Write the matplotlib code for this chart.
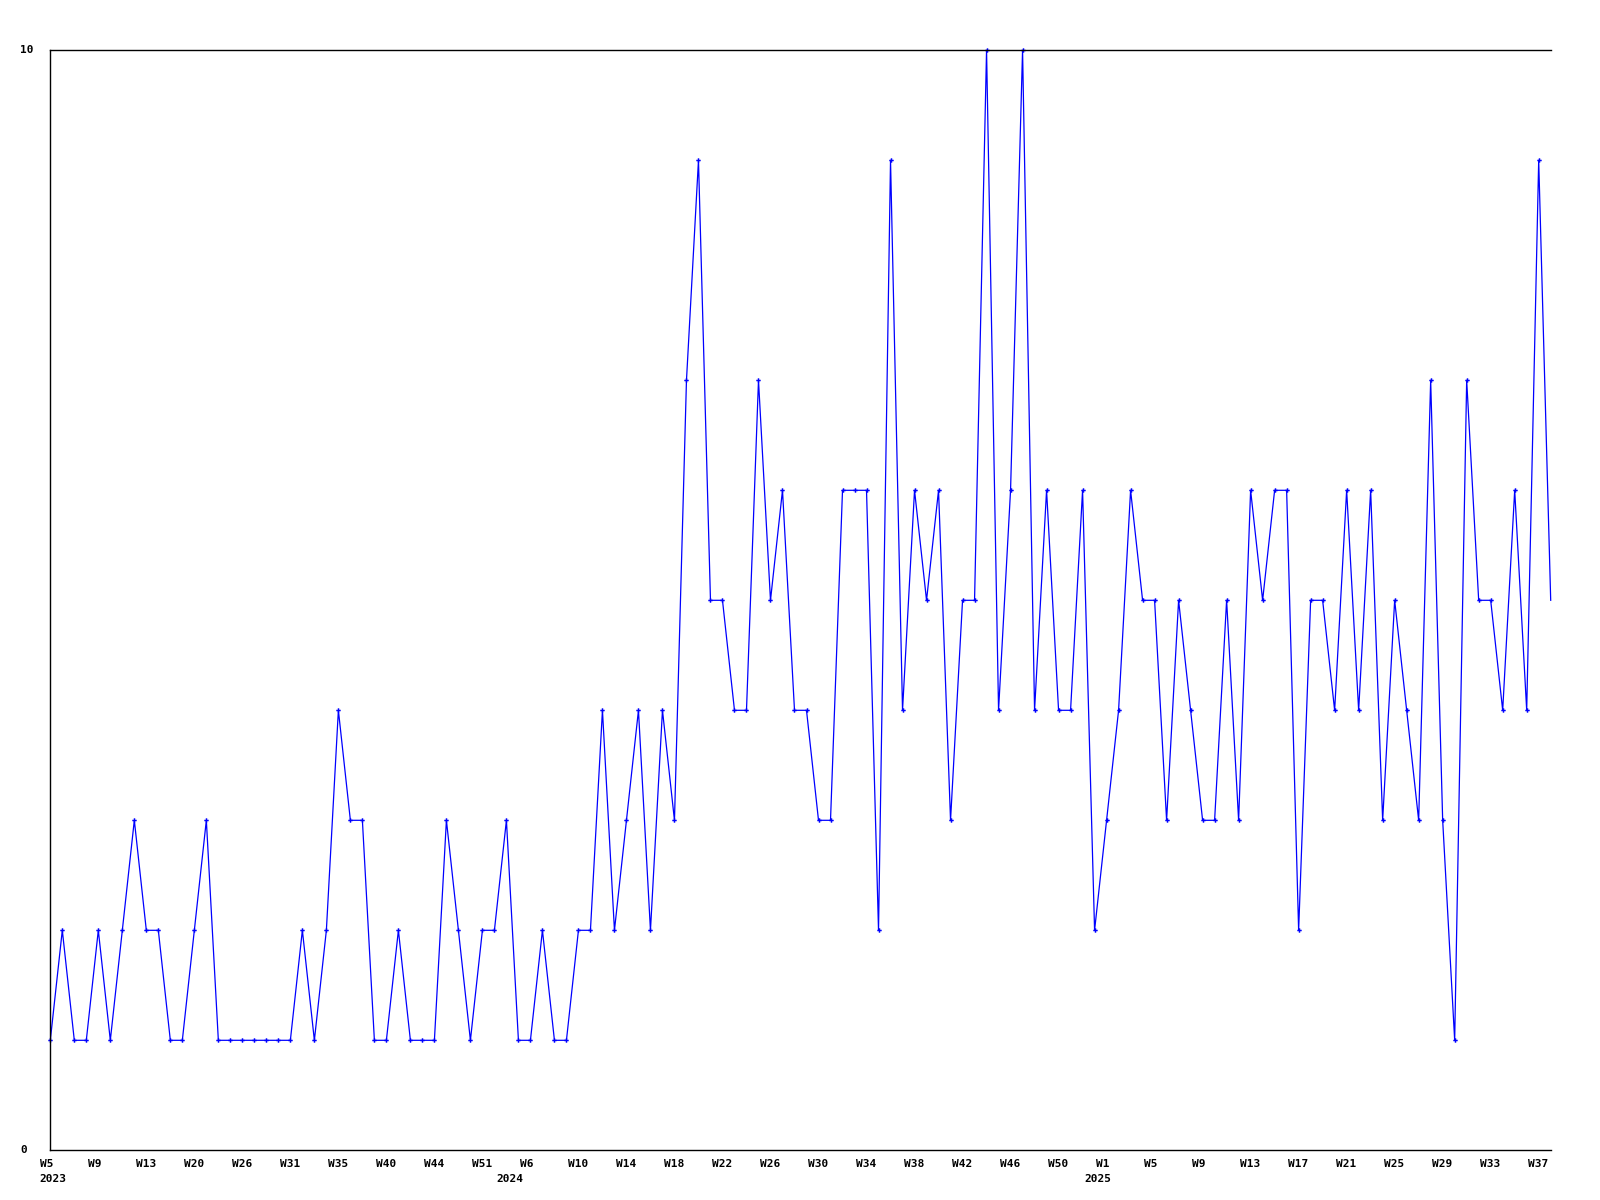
# -*-coding:utf8-*-

import matplotlib
matplotlib.use('Agg')
import matplotlib.pyplot as plt
import numpy as np

# weekly counts, one value per week that has data
g_values = [1, 2, 1, 1, 2, 1, 2, 3, 2, 2, 1, 1, 2, 3, 1, 1, 1, 1, 1, 1,
            1, 2, 1, 2, 4, 3, 3, 1, 1, 2,
            1, 1, 1, 3, 2, 1, 2, 2, 3, 1, 1, 2, 1, 1, 2, 2, 4, 2, 3, 4,
            2, 4, 3,
            7, 9, 5, 5, 4, 4, 7, 5, 6, 4, 4, 3, 3, 6, 6, 6, 2, 9, 4, 6,
            5, 6,
            3, 5, 5, 10, 4, 6, 10, 4, 6, 4, 4, 6, 2,
            3, 4, 6, 5, 5, 3, 5, 4, 3, 3, 5, 3, 6, 5, 6, 6, 2, 5, 5, 4,
            6, 4, 6, 3, 5, 4, 3, 7, 3, 1, 7, 5, 5, 4, 6, 4, 9, 5]

# a week label on every 4th point
g_weekLabels = ['W5', 'W9', 'W13', 'W20', 'W26', 'W31', 'W35', 'W40', 'W44', 'W51',
                'W6', 'W10', 'W14', 'W18', 'W22', 'W26', 'W30', 'W34', 'W38', 'W42',
                'W46', 'W50', 'W1', 'W5', 'W9', 'W13', 'W17', 'W21', 'W25', 'W29',
                'W33', 'W37']
g_labelStep = 4

# point index where a new year starts
g_yearStart = [0, 38, 87]
g_yearNames = ['2023', '2024', '2025']

g_yMin = 0
g_yMax = 10


def drawChart(output='out.png'):
    fig = plt.figure(figsize=(16, 12), dpi=100)
    ax = fig.add_axes([50.3 / 1600, 1 - 1150.3 / 1200,
                       1500.4 / 1600, 1100.0 / 1200])

    xs = np.arange(len(g_values))
    # line first, then markers (last point has no marker in the original)
    ax.plot(xs, g_values, '-', color='#0000ff', lw=0.9, clip_on=False)
    ax.plot(xs[:-1], g_values[:-1], 'P', color='#0000ff', ms=3.2, mew=0, clip_on=False)

    ax.set_xlim(0, len(g_values) - 1)
    ax.set_ylim(g_yMin, g_yMax)
    ax.set_xticks([])
    ax.set_yticks([])
    ax.spines['right'].set_visible(False)
    for s in ['left', 'top', 'bottom']:
        ax.spines[s].set_linewidth(1.0)
        ax.spines[s].set_color('black')

    font = dict(family='DejaVu Sans Mono', weight='bold', size=8, color='black')

    # x labels, left aligned a bit before each point
    for k, lab in enumerate(g_weekLabels):
        ax.annotate(lab, xy=(k * g_labelStep, 0), xycoords=('data', 'axes fraction'),
                    xytext=(-10.5, -13.5), textcoords='offset pixels',
                    ha='left', va='center', **font)
    for i, yr in zip(g_yearStart, g_yearNames):
        ax.annotate(yr, xy=(i, 0), xycoords=('data', 'axes fraction'),
                    xytext=(-10.5, -29), textcoords='offset pixels',
                    ha='left', va='center', **font)

    # y labels only at min / max
    for v in [g_yMin, g_yMax]:
        ax.annotate(str(v), xy=(0, v), xycoords=('axes fraction', 'data'),
                    xytext=(-30.3, 0), textcoords='offset pixels',
                    ha='left', va='center', **font)

    fig.savefig(output, dpi=100)


if __name__ == '__main__':
    drawChart('out.png')
